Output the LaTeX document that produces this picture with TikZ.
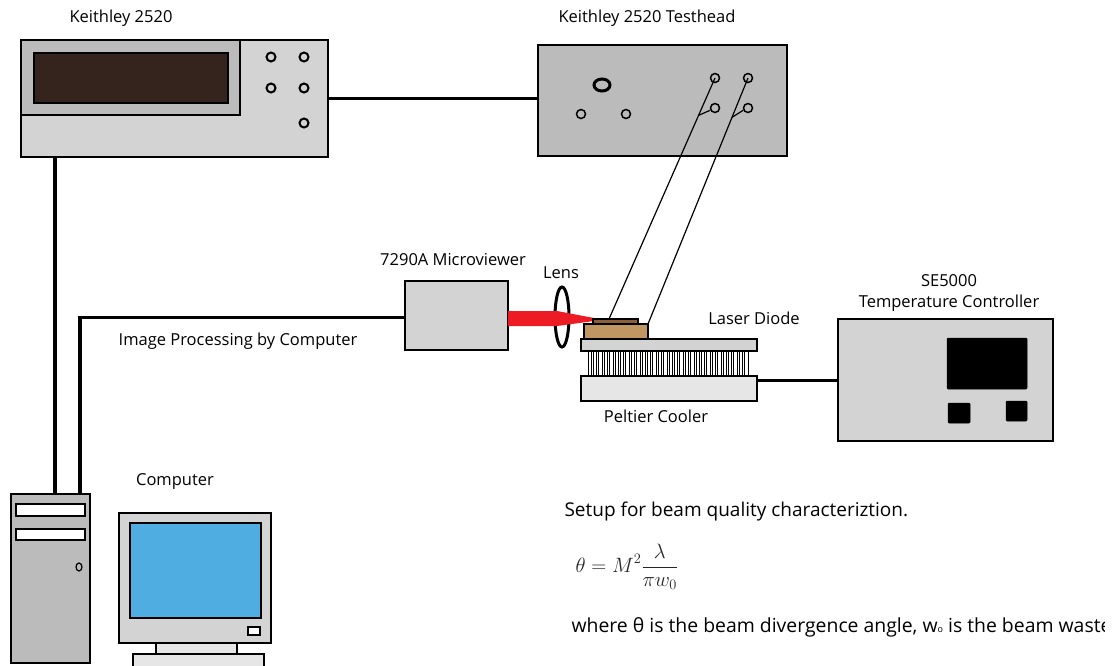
\documentclass[tikz,border=0pt]{standalone}
\usepackage{fontspec}
\setmainfont{Open Sans}
\usetikzlibrary{shapes.geometric, positioning}
\definecolor{panelgray}{RGB}{211,211,211}
\definecolor{framegray}{RGB}{187,187,187}
\definecolor{palegray}{RGB}{230,230,230}
\definecolor{screenbrown}{RGB}{53,35,29}
\definecolor{beamred}{RGB}{237,28,36}
\definecolor{chipbrown}{RGB}{139,94,60}
\definecolor{mounttan}{RGB}{192,151,98}
\definecolor{monitorblue}{RGB}{80,173,225}

\begin{document}
\begin{tikzpicture}[
        x=1pt, y=-1pt,
        panel/.style={rectangle, draw, line width=1.5pt, fill=panelgray, anchor=north west, inner sep=0pt, outer sep=0pt},
        knob/.style={circle, draw, line width=2pt, minimum size=9pt, inner sep=0pt},
        cable/.style={line width=3.5pt},
        lead/.style={line width=1.2pt},
        tag/.style={font=\fontsize{16.5}{19}\selectfont},
        note/.style={font=\fontsize{19}{22}\selectfont, anchor=west}
    ]
        \useasboundingbox (0,0) rectangle (1114,665);
        \clip (0,0) rectangle (1114,665);

        % source meter
        \node[panel, minimum width=307pt, minimum height=117pt] (keithley) at (21,40) {};
        \node[panel, fill=framegray, minimum width=219pt, minimum height=75pt] (kframe) at (21,40) {};
        \node[panel, fill=screenbrown, minimum width=194pt, minimum height=50pt] (kscreen) at (34,53) {};
        \foreach \p [count=\i] in {(271,57),(304,57),(271,88),(304,88),(304,123)}
            \node[knob] (kknob\i) at \p {};
        \node[tag] (keithleylabel) at (121,18) {Keithley 2520};

        % test head
        \node[panel, fill=framegray, minimum width=249pt, minimum height=111pt] (head) at (538,45) {};
        \node[ellipse, draw, line width=3pt, minimum width=16pt, minimum height=12pt, inner sep=0pt] (hring) at (602,85) {};
        \node[knob, line width=1.5pt] (hsmall1) at (581,114) {};
        \node[knob, line width=1.5pt] (hsmall2) at (626,114) {};
        \foreach \p [count=\i] in {(715,78),(748,78),(715,108),(748,108)}
            \node[knob, line width=1.5pt] (hpin\i) at \p {};
        \node[tag] (headlabel) at (647,18) {Keithley 2520 Testhead};

        % microviewer and lens
        \node[panel, minimum width=103pt, minimum height=69pt] (viewer) at (405,281) {};
        \node[tag] (viewerlabel) at (453,260) {7290A Microviewer};
        \node[ellipse, draw, line width=3pt, minimum width=14pt, minimum height=60pt, inner sep=0pt] (lens) at (562,317) {};
        \node[tag] (lenslabel) at (561,273) {Lens};
        \fill[beamred] ([yshift=4.5pt]viewer.east) -- ++(49,0) -- ++(37,7) -- ++(0,3)
            -- ++(-37,5) -- ++(-49,0) -- cycle;

        % laser diode on the peltier stack
        \node[panel, fill=chipbrown, line width=1.2pt, minimum width=45pt, minimum height=5pt] (ldchip) at (593,319) {};
        \node[panel, fill=mounttan, line width=1.2pt, minimum width=64pt, minimum height=15pt] (ldbase) at (584,324) {};
        \node[panel, minimum width=176pt, minimum height=12pt] (coolertop) at (581,339) {};
        \foreach \i in {0,...,29}
            \draw[fill=white, line width=0.8pt] (588+\i*5.4,351) rectangle ++(3.4,25);
        \node[panel, fill=palegray, minimum width=176pt, minimum height=25pt] (cooler) at (581,376) {};
        \node[tag] (ldlabel) at (754,318) {Laser Diode};
        \node[tag] (coolerlabel) at (656,416) {Peltier Cooler};

        % temperature controller
        \node[panel, minimum width=215pt, minimum height=122pt] (temp) at (838,319) {};
        \node[panel, fill=black, rounded corners=1pt, line width=0.5pt, minimum width=80pt, minimum height=51pt] (tdisplay) at (947,338) {};
        \node[panel, fill=black, rounded corners=1pt, line width=0.5pt, minimum width=22pt, minimum height=20pt] (tbutton1) at (948,403) {};
        \node[panel, fill=black, rounded corners=1pt, line width=0.5pt, minimum width=21pt, minimum height=20pt] (tbutton2) at (1006,401) {};
        \node[tag] (templabel) at (949,281) {SE5000};
        \node[tag] (templabel2) at (949,303) {Temperature Controller};

        % computer
        \node[panel, fill=framegray, minimum width=79pt, minimum height=169pt] (tower) at (11,494) {};
        \node[panel, fill=white, line width=1.2pt, minimum width=69pt, minimum height=12pt] (bay1) at (16,504) {};
        \node[panel, fill=white, line width=1.2pt, minimum width=69pt, minimum height=11pt] (bay2) at (16,529) {};
        \node[ellipse, draw, line width=1.2pt, minimum width=6pt, minimum height=8pt, inner sep=0pt] (power) at (79,567) {};
        \node[panel, minimum width=152pt, minimum height=130pt] (monitor) at (119,513) {};
        \node[panel, fill=monitorblue, minimum width=131pt, minimum height=95pt] (screen) at (130,523) {};
        \node[panel, fill=white, line width=1.2pt, minimum width=12pt, minimum height=8pt] (mbutton) at (248,627) {};
        \node[panel, fill=palegray, minimum width=81pt, minimum height=11pt] (neck) at (156,643) {};
        \node[panel, fill=palegray, minimum width=131pt, minimum height=20pt] (stand) at (133,654) {};
        \node[tag] (pclabel) at (175,481) {Computer};

        % cables
        \draw[cable] (keithley.east) -- (keithley.east -| head.west);
        \draw[cable] ([xshift=34pt]keithley.south west) -- ([xshift=44pt]tower.north west);
        \draw[cable] ([xshift=69pt]tower.north west) |- ([yshift=-2pt]viewer.west);
        \draw[cable] ([yshift=8pt]cooler.east) -- ([yshift=8pt]cooler.east -| temp.west);
        \node[tag] (imglabel) at (238,341) {Image Processing by Computer};

        % probe leads from the test head
        \draw[lead] (hpin1.center) -- coordinate[pos=0.155] (split1) ([xshift=16pt]ldchip.north west);
        \draw[lead] (hpin2.center) -- coordinate[pos=0.16] (split2) (ldbase.north east);
        \draw[lead] (split1) -- (hpin3.205);
        \draw[lead] (split2) -- (hpin4.205);

        % caption
        \node[note] (caption) at (561,512) {Setup for beam quality characteriztion.};
        \node[anchor=west, text=black!85, font=\fontsize{19.5}{23}\selectfont] (formula) at (572,567)
            {$\displaystyle\theta = M^2\frac{\lambda}{\pi w_0}$};
        \begin{scope}
            \clip (0,0) rectangle (1104,665);
            \node[note, font=\fontsize{19.4}{23}\selectfont] (legend) at (568,627)
                {where θ is the beam divergence angle, w{\fontsize{9}{9}\selectfont o} is the beam waste};
        \end{scope}
    \end{tikzpicture}
\end{document}
